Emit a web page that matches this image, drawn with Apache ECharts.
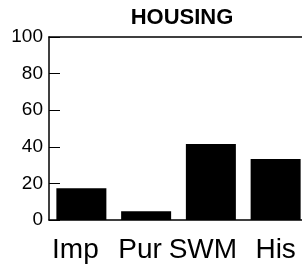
<!DOCTYPE html>
<html>
<head>
<meta charset="utf-8">
<script src="https://cdn.jsdelivr.net/npm/echarts@6/dist/echarts.min.js"></script>
<style>
  html, body { margin: 0; padding: 0; background: #fff; }
  #chart { width: 302px; height: 273px; }
</style>
</head>
<body>
<div id="chart"></div>
<script>
// chart data
const categories = ['Imp', 'Pur', 'SWM', 'His'];
const values = [17.3, 4.8, 41.5, 33.3];
const yTicks = [0, 20, 40, 60, 80, 100];

const myChart = echarts.init(document.getElementById('chart'));

// labels sit a little left of the bar centres in the original
const labelShift = [12, 12, 16, 0];
const rich = {};
categories.forEach(function (c, i) {
    rich['l' + i] = {
        fontSize: 28,
        color: '#000',
        fontFamily: 'Liberation Sans',
        padding: [0, labelShift[i], 0, 0]
    };
});

myChart.setOption({
    animation: false,
    title: {
        text: 'HOUSING',
        left: 177,
        top: 2,
        textAlign: 'center',
        textStyle: {
            fontFamily: 'Liberation Sans',
            fontWeight: 'bold',
            fontSize: 22,
            color: '#000'
        }
    },
    grid: {
        left: 49,
        top: 37,
        bottom: 53,
        width: 259,
        containLabel: false,
        outerBoundsMode: 'none'
    },
    xAxis: [{
        type: 'category',
        data: categories,
        axisLine: { lineStyle: { color: '#000', width: 1.5 } },
        axisTick: { show: false },
        axisLabel: {
            interval: 0,
            hideOverlap: false,
            margin: 16,
            formatter: function (v, i) { return '{l' + i + '|' + v + '}'; },
            rich: rich
        }
    }, {
        // top frame line
        type: 'category',
        position: 'top',
        data: categories,
        axisLine: { lineStyle: { color: '#000', width: 1.5 } },
        axisTick: { show: false },
        axisLabel: { show: false }
    }],
    yAxis: {
        type: 'value',
        min: yTicks[0],
        max: yTicks[yTicks.length - 1],
        interval: yTicks[1] - yTicks[0],
        splitLine: { show: false },
        axisLine: { show: true, lineStyle: { color: '#000', width: 1.5 } },
        axisTick: { show: true, inside: true, length: 11, lineStyle: { color: '#000', width: 1 } },
        axisLabel: {
            margin: 6,
            fontSize: 19,
            color: '#000',
            fontFamily: 'Liberation Sans'
        }
    },
    series: [{
        type: 'bar',
        data: values,
        barWidth: 50,
        itemStyle: { color: '#000' }
    }]
});
</script>
</body>
</html>
